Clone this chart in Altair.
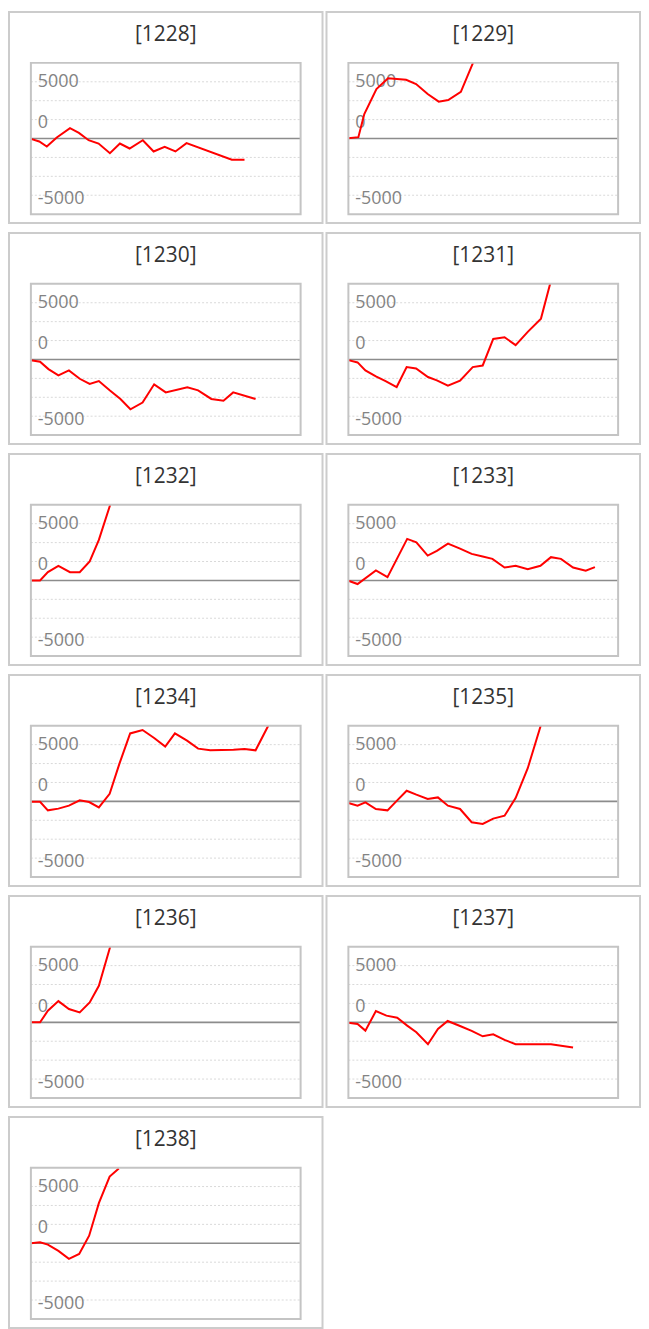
import altair as alt
import pandas as pd

# ---- data ----
panel_ids = ["1228", "1229", "1230", "1231", "1232", "1233",
             "1234", "1235", "1236", "1237", "1238"]

x_1228 = [0, 3.1, 5.9, 9.6, 14.5, 17.8, 21.4, 25.1, 29.3, 33.0, 36.6, 41.5, 45.5, 49.6, 53.6, 57.7, 74.5, 79.2]
y_1228 = [-30, -260, -700, 90, 910, 500, -150, -440, -1290, -440, -880, -150, -1140, -730, -1140, -410, -1870, -1870]

x_1229 = [0, 3.7, 5.9, 10.4, 14.7, 21.4, 25.1, 29.4, 33.5, 37.0, 41.7, 46.2]
y_1229 = [30, 120, 2160, 4360, 5320, 5180, 4800, 3920, 3250, 3390, 4120, 6667]

x_1230 = [0, 3.4, 6.5, 10.2, 14.1, 18.1, 21.8, 25.2, 29.2, 33.2, 36.9, 41.4, 45.7, 50.0, 58.0, 62.0, 66.9, 71.4, 75.0, 83.3]
y_1230 = [-60, -200, -850, -1400, -960, -1700, -2160, -1900, -2720, -3480, -4390, -3800, -2190, -2900, -2460, -2720, -3480, -3630, -2900, -3480]

x_1231 = [0, 3.4, 6.3, 10.2, 13.8, 17.9, 21.6, 25.1, 29.5, 32.8, 36.9, 41.4, 46.1, 49.8, 53.7, 57.9, 62.0, 66.5, 71.4, 74.8]
y_1231 = [-60, -260, -960, -1490, -1900, -2430, -670, -790, -1550, -1840, -2310, -1870, -670, -530, 1810, 1960, 1260, 2430, 3600, 6667]

x_1232 = [0, 3.4, 6.3, 10.2, 14.5, 18.1, 21.8, 25.2, 29.4]
y_1232 = [0, 0, 730, 1290, 730, 730, 1670, 3570, 6667]

x_1233 = [0, 3.4, 10.2, 14.5, 21.8, 25.2, 29.4, 32.8, 36.9, 41.4, 45.7, 49.8, 53.4, 57.9, 62.0, 66.5, 71.2, 75.1, 78.8, 83.3, 88.0, 91.4]
y_1233 = [-30, -320, 880, 290, 3660, 3360, 2190, 2600, 3250, 2810, 2340, 2110, 1900, 1140, 1290, 990, 1290, 2050, 1900, 1140, 850, 1170]

x_1234 = [0, 3.4, 6.3, 10.2, 14.1, 18.1, 21.6, 25.2, 29.2, 32.8, 36.8, 41.4, 45.7, 49.8, 53.4, 57.9, 62.0, 66.5, 75.1, 79.2, 83.3, 88.0]
y_1234 = [-30, -30, -790, -640, -380, 90, -60, -530, 670, 3300, 5990, 6290, 5590, 4830, 5990, 5350, 4650, 4500, 4560, 4620, 4500, 6667]

x_1235 = [0, 3.4, 6.3, 10.2, 14.5, 18.1, 21.6, 25.2, 29.4, 33.2, 36.9, 41.4, 45.7, 49.8, 53.7, 57.9, 62.0, 66.5, 71.3]
y_1235 = [-150, -380, -90, -670, -790, 90, 940, 590, 210, 350, -380, -670, -1840, -1990, -1520, -1260, 290, 2920, 6667]

x_1236 = [0, 3.4, 6.3, 10.2, 14.1, 18.1, 21.8, 25.2, 29.4]
y_1236 = [0, 0, 1020, 1870, 1170, 880, 1750, 3220, 6667]

x_1237 = [0, 3.4, 6.3, 10.2, 14.1, 18.1, 21.8, 25.2, 29.5, 33.2, 36.8, 41.4, 45.7, 49.8, 53.7, 57.9, 62.0, 75.1, 83.3]
y_1237 = [-30, -150, -730, 990, 590, 410, -290, -880, -1930, -590, 120, -320, -760, -1230, -1050, -1550, -1930, -1930, -2220]

x_1238 = [0, 3.4, 6.3, 10.2, 14.1, 17.9, 21.6, 25.2, 29.2, 32.6]
y_1238 = [0, 90, -120, -670, -1370, -940, 670, 3540, 5880, 6600]

series = {
    "1228": (x_1228, y_1228), "1229": (x_1229, y_1229),
    "1230": (x_1230, y_1230), "1231": (x_1231, y_1231),
    "1232": (x_1232, y_1232), "1233": (x_1233, y_1233),
    "1234": (x_1234, y_1234), "1235": (x_1235, y_1235),
    "1236": (x_1236, y_1236), "1237": (x_1237, y_1237),
    "1238": (x_1238, y_1238),
}

grid_values = [-5000, -3333.3, -1666.7, 1666.7, 3333.3, 5000]
tick_labels = ["5000", "0", "-5000"]
tick_values = [5000, 1340, -5320]

Y_DOMAIN = [-6667, 6667]
X_DOMAIN = [0, 100]

# ---- layout (pixels inside each panel) ----
W, H = 315, 212
PX0, PX1 = 22, 293
PY0, PY1 = 51, 203
FONT = "Open Sans"


def panel(pid):
    xs, ys = series[pid]
    xsc = alt.Scale(domain=X_DOMAIN, range=[PX0, PX1], nice=False, zero=False)
    ysc = alt.Scale(domain=Y_DOMAIN, range=[PY1, PY0], nice=False, zero=False)

    grid = alt.Chart(pd.DataFrame({"v": grid_values})).mark_rule(
        color="#d9d9d9", strokeDash=[2, 2], strokeWidth=1
    ).encode(
        y=alt.Y("v:Q", scale=ysc, axis=None),
        x=alt.value(PX0), x2=alt.value(PX1),
    )
    zero = alt.Chart(pd.DataFrame({"v": [0]})).mark_rule(
        color="#8c8c8c", strokeWidth=1.6
    ).encode(
        y=alt.Y("v:Q", scale=ysc, axis=None),
        x=alt.value(PX0), x2=alt.value(PX1),
    )
    labels = alt.Chart(pd.DataFrame({"v": tick_values, "t": tick_labels})).mark_text(
        align="left", baseline="middle", font=FONT, fontSize=18, color="#838383"
    ).encode(
        y=alt.Y("v:Q", scale=ysc, axis=None),
        x=alt.value(PX0 + 7),
        text="t:N",
    )
    line = alt.Chart(pd.DataFrame({"x": xs, "y": ys})).mark_line(
        color="#ff0000", strokeWidth=2
    ).encode(
        x=alt.X("x:Q", scale=xsc, axis=None),
        y=alt.Y("y:Q", scale=ysc, axis=None),
    )
    frame = alt.Chart(pd.DataFrame({"v": [0]})).mark_rect(
        filled=False, stroke="#c4c4c4", strokeWidth=2
    ).encode(
        x=alt.value(PX0), x2=alt.value(PX1),
        y=alt.value(PY0), y2=alt.value(PY1),
    )
    title = alt.Chart(pd.DataFrame({"t": [f"[{pid}]"]})).mark_text(
        align="center", baseline="middle", font=FONT, fontSize=21, color="#333333"
    ).encode(
        x=alt.value(W / 2), y=alt.value(23), text="t:N"
    )
    return alt.layer(grid, zero, labels, line, frame, title).properties(width=W, height=H)


rows = []
for i in range(0, len(panel_ids), 2):
    ids = panel_ids[i:i + 2]
    rows.append(alt.hconcat(*[panel(p) for p in ids], spacing=2))

chart = alt.vconcat(*rows, spacing=8).properties(padding=0).configure_view(
    stroke="#cccccc", strokeWidth=2
)

chart.save("out.html", embed_options={"renderer": "svg", "actions": False})
